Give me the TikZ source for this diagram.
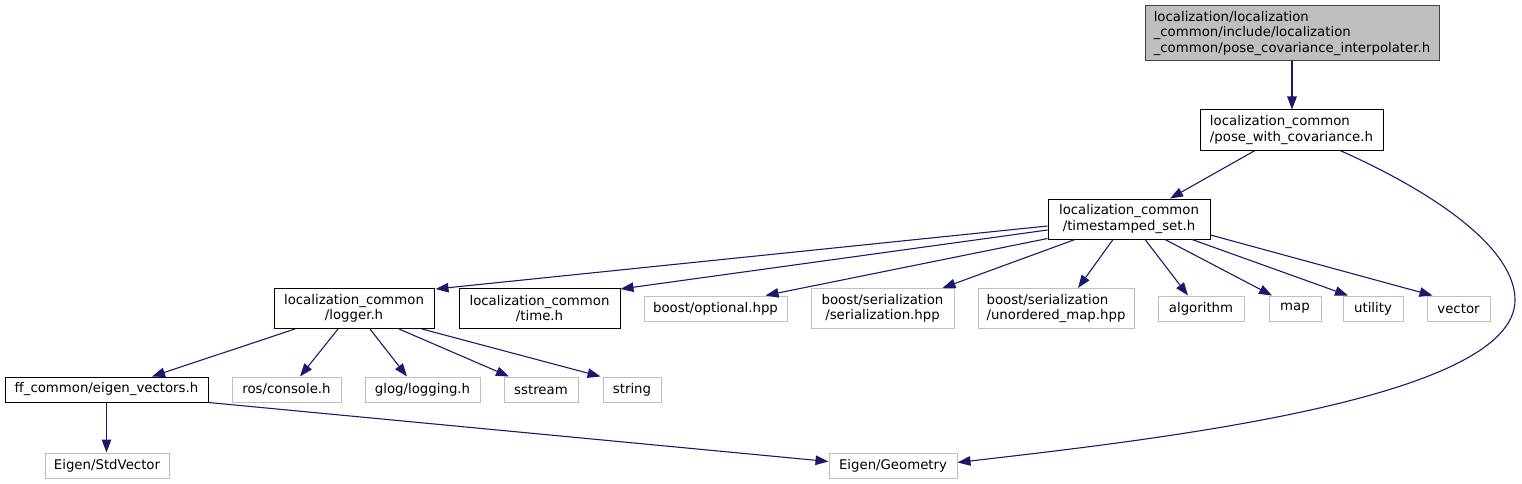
\documentclass[tikz,border=0pt]{standalone}
\usepackage{fontspec}
\setmainfont{DejaVu Sans}
\usetikzlibrary{arrows.meta,calc}
\definecolor{edgeblue}{HTML}{191970}
\definecolor{missgray}{HTML}{BFBFBF}
\definecolor{topgray}{HTML}{BFBFBF}
\definecolor{topborder}{HTML}{404040}
\tikzset{
  hbox/.style={draw=black, fill=white, line width=1pt, inner sep=0pt, text=black,
    font=\fontsize{13.3}{15.5}\selectfont, anchor=center},
  missbox/.style={hbox, draw=missgray},
  topbox/.style={hbox, fill=topgray, draw=topborder},
  edge/.style={draw=edgeblue, line width=1.1pt, -{Triangle[length=13pt,width=9.5pt]}},
}
\begin{document}
\begin{tikzpicture}[x=1pt,y=-1pt]
\useasboundingbox (0,0) rectangle (1522,484);
% row 0
\node[topbox, minimum width=294pt, minimum height=55pt, align=left] (top) at (1292,33.5)
  {localization/localization\\\_common/include/localization\\\_common/pose\_covariance\_interpolater.h};
% row 1
\node[hbox, minimum width=183pt, minimum height=40pt, align=left] (pose) at (1291.5,130)
  {localization\_common\\/pose\_with\_covariance.h};
% row 2
\node[hbox, minimum width=162pt, minimum height=40pt, align=center] (ts) at (1129,219)
  {localization\_common\\/timestamped\_set.h};
% row 3
\node[hbox, minimum width=160pt, minimum height=40pt, align=center] (logger) at (354,308.5)
  {localization\_common\\/logger.h};
\node[hbox, minimum width=161pt, minimum height=40pt, align=center] (time) at (539.5,308.5)
  {localization\_common\\/time.h};
\node[missbox, minimum width=143pt, minimum height=25pt] (opt) at (715.5,308.5) {boost/optional.hpp};
\node[missbox, minimum width=143pt, minimum height=40pt, align=center] (ser) at (882.5,308.5)
  {boost/serialization\\/serialization.hpp};
\node[missbox, minimum width=156pt, minimum height=40pt, align=left] (uno) at (1056,308.5)
  {boost/serialization\\/unordered\_map.hpp};
\node[missbox, minimum width=86pt, minimum height=25pt] (alg) at (1201,308.5) {algorithm};
\node[missbox, minimum width=52pt, minimum height=25pt] (map) at (1295,308.5) {map};
\node[missbox, minimum width=60pt, minimum height=25pt] (util) at (1373,308.5) {utility};
\node[missbox, minimum width=63pt, minimum height=25pt] (vec) at (1458.5,308.5) {vector};
% row 4
\node[hbox, minimum width=203pt, minimum height=25pt] (ev) at (106.5,389.5) {ff\_common/eigen\_vectors.h};
\node[missbox, minimum width=109pt, minimum height=25pt] (ros) at (286.5,389.5) {ros/console.h};
\node[missbox, minimum width=115pt, minimum height=25pt] (glog) at (422.5,389.5) {glog/logging.h};
\node[missbox, minimum width=74pt, minimum height=25pt] (sst) at (541,389.5) {sstream};
\node[missbox, minimum width=58pt, minimum height=25pt] (str) at (632,389.5) {string};
% row 5
\node[missbox, minimum width=124pt, minimum height=25pt] (sv) at (107,465.5) {Eigen/StdVector};
\node[missbox, minimum width=128pt, minimum height=25pt] (geo) at (893,465.5) {Eigen/Geometry};
% edges
\draw[edge] (top.south) -- (top.south |- pose.north);
\draw[edge] ($(pose.south)+(-36.5,0)$) -- ($(ts.north)+(41,0)$);
\draw[edge] ($(pose.south)+(48.5,0)$) .. controls (1440,195) and (1515,250) .. (1515,300)
  .. controls (1515,400) and (1150,440) .. ($(geo.east)+(0,-3)$);
\draw[edge] ($(ts.west)+(0,7)$) -- ($(logger.north east)+(1,1)$);
\draw[edge] ($(ts.west)+(0,11)$) -- ($(time.north east)+(0,1)$);
\draw[edge] ($(ts.south west)+(0,-1)$) -- ($(opt.north)+(50,0)$);
\draw[edge] ($(ts.south)+(-54,0)$) -- ($(ser.north)+(60,0)$);
\draw[edge] ($(ts.south)+(-16,0)$) -- ($(uno.north)+(22,0)$);
\draw[edge] ($(ts.south)+(16,0)$) -- ($(alg.north)+(-13,0)$);
\draw[edge] ($(ts.south)+(36,0)$) -- ($(map.north)+(-23,0)$);
\draw[edge] ($(ts.south)+(63,0)$) -- ($(util.north)+(-25,0)$);
\draw[edge] ($(ts.east)+(0,16)$) -- ($(vec.north)+(-26,0)$);
\draw[edge] ($(logger.south)+(-59,0)$) -- ($(ev.north)+(45.5,0)$);
\draw[edge] ($(logger.south)+(-16,0)$) -- ($(ros.north)+(13.5,0)$);
\draw[edge] ($(logger.south)+(16,0)$) -- ($(glog.north)+(-15.5,0)$);
\draw[edge] ($(logger.south)+(45,0)$) -- ($(sst.north)+(-32,0)$);
\draw[edge] ($(logger.south)+(68,0)$) -- ($(str.north west)+(-2,0)$);
\draw[edge] (ev.south) -- (ev.south |- sv.north);
\draw[edge] (ev.south east) -- ($(geo.west)+(0,-4)$);
\end{tikzpicture}
\end{document}
